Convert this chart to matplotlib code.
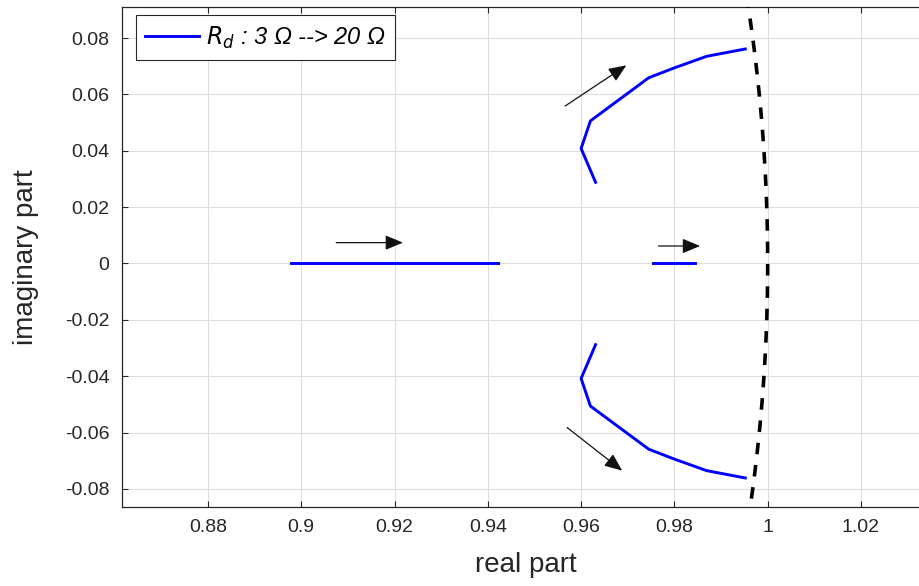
import matplotlib

matplotlib.use("Agg")

import matplotlib.pyplot as plt
import numpy as np

plt.rcParams["font.family"] = ["Liberation Sans", "DejaVu Sans"]

# root-locus branches
upper_re = [0.9631, 0.9600, 0.9620, 0.9745, 0.9800, 0.9869, 0.9952]
upper_im = [0.0288, 0.0408, 0.0506, 0.0659, 0.0694, 0.0735, 0.0761]
lower_re = [0.9631, 0.9600, 0.9620, 0.9745, 0.9800, 0.9869, 0.9952]
lower_im = [-0.0288, -0.0408, -0.0506, -0.0659, -0.0694, -0.0735, -0.0761]
real1_re = [0.8977, 0.9421]
real1_im = [0.0, 0.0]
real2_re = [0.9754, 0.9844]
real2_im = [0.0, 0.0]

# direction arrows (tail, head)
arrows = [
    ((0.9566, 0.0559), (0.9697, 0.0703)),
    ((0.9570, -0.0582), (0.9688, -0.0735)),
    ((0.9075, 0.0074), (0.9218, 0.0074)),
    ((0.9766, 0.0062), (0.9855, 0.0062)),
]

xticks = [0.88, 0.90, 0.92, 0.94, 0.96, 0.98, 1.00, 1.02]
xtick_labels = ["0.88", "0.9", "0.92", "0.94", "0.96", "0.98", "1", "1.02"]
yticks = [-0.08, -0.06, -0.04, -0.02, 0.0, 0.02, 0.04, 0.06, 0.08]
ytick_labels = ["-0.08", "-0.06", "-0.04", "-0.02", "0", "0.02", "0.04", "0.06", "0.08"]

fig = plt.figure(figsize=(9.2, 5.86), dpi=100)
ax = fig.add_axes([122 / 920, 1 - 507 / 586, 808 / 920, 500 / 586])

# unit circle (stability boundary)
theta = np.linspace(-0.2, 0.2, 200)
ax.plot(np.cos(theta), np.sin(theta), color="black", linestyle=(0, (3.2, 3.0)), linewidth=2.6, zorder=3)

blue = "#0000ff"
ax.plot(upper_re, upper_im, color=blue, linewidth=2.1, label=r"$R_d$ : 3 Ω --> 20 Ω", zorder=4)
ax.plot(lower_re, lower_im, color=blue, linewidth=2.1, zorder=4)
ax.plot(real1_re, real1_im, color=blue, linewidth=2.1, zorder=4)
ax.plot(real2_re, real2_im, color=blue, linewidth=2.1, zorder=4)

for tail, head in arrows:
    ax.annotate(
        "",
        xy=head,
        xytext=tail,
        arrowprops=dict(
            arrowstyle="-|>,head_length=0.6,head_width=0.25",
            color="#111111",
            lw=0.9,
            mutation_scale=18,
            shrinkA=0,
            shrinkB=0,
        ),
        zorder=5,
    )

ax.set_xlim(0.86157, 1.0348)
ax.set_ylim(-0.0864, 0.0910)
ax.set_xticks(xticks)
ax.set_xticklabels(xtick_labels)
ax.set_yticks(yticks)
ax.set_yticklabels(ytick_labels)
ax.tick_params(direction="in", top=True, right=True, length=4, labelsize=14, colors="#262626")
ax.tick_params(axis="x", pad=9)
ax.tick_params(axis="y", pad=9)
ax.grid(True, color="#dedede", linewidth=0.8)
ax.set_axisbelow(True)
for spine in ax.spines.values():
    spine.set_color("#262626")
    spine.set_linewidth(0.9)

ax.set_xlabel("real part", fontsize=20, color="#262626", va="center")
ax.set_ylabel("imaginary part", fontsize=20, color="#262626", va="center")
ax.xaxis.set_label_coords(0.5, -0.117)
ax.yaxis.set_label_coords(-0.119, 0.5)

leg = ax.legend(
    loc="upper left",
    bbox_to_anchor=(0.0173, 0.984),
    borderaxespad=0,
    fancybox=False,
    edgecolor="#262626",
    framealpha=1,
    handlelength=2.25,
    handletextpad=0.3,
    borderpad=0.4,
    prop={"size": 17, "style": "italic"},
)
leg.get_frame().set_linewidth(0.8)

fig.savefig("out.png", dpi=100, facecolor="white")
